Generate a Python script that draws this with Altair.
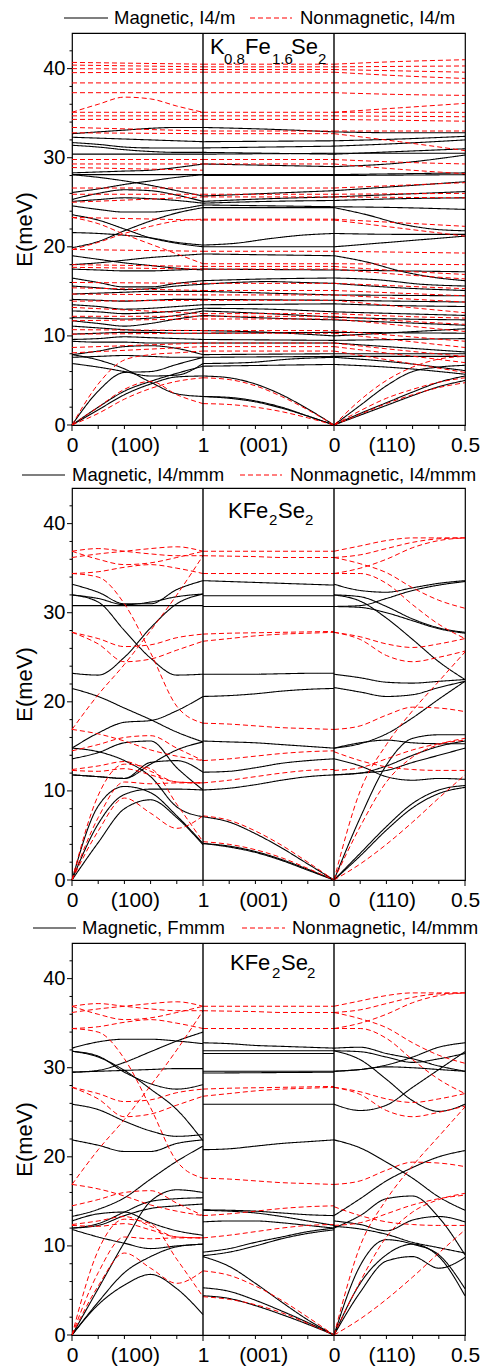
import json
import altair as alt
import pandas as pd

FONT = "Liberation Sans"
RED = "#ff0000"
DASH = [5, 3]

# ---------------- axis / layout lists ----------------
XLAB_POS = [0, 0.48, 1, 1.46, 2, 2.44, 3]
XLAB_TEXT = ["0", "(100)", "1", "(001)", "0", "(110)", "0.5"]
Y_LABELS = [0, 10, 20, 30, 40]
XTICKS_MINOR = [0.2, 0.4, 0.6, 0.8, 1.2, 1.4, 1.6, 1.8, 2.2, 2.4, 2.6, 2.8]
XTICKS_MAJOR = [0, 1, 2, 3]
YTICKS_MAJOR = [0, 10, 20, 30, 40]
YTICKS_MINOR = [2, 4, 6, 8, 12, 14, 16, 18, 22, 24, 26, 28, 32, 34, 36, 38, 42]
SEG_BOUNDS = [1, 2]

# ---------------- Panel 1: K0.8Fe1.6Se2 ----------------
P1_MAG_LABEL = "Magnetic, I4/m"
P1_NM_LABEL = "Nonmagnetic, I4/m"

P1_MAG_S1 = [
    [32.7, 32.9, 33.1, 33.3, 33.4, 33.4],
    [32.3, 32.2, 32.1, 32.0, 31.9, 31.8],
    [31.7, 31.5, 31.2, 31.1, 31.1, 31.1],
    [31.4, 31.2, 30.9, 30.7, 30.6, 30.6],
    [30.4, 30.4],
    [28.3, 28.4, 28.5, 28.6, 28.9, 29.3],
    [28.1, 28.1],
    [28.1, 27.8, 27.4, 26.9, 26.3, 25.7],
    [26.1, 26.5, 27.0, 27.4, 27.8, 28.1],
    [25.3, 26.0, 26.4, 26.3, 25.8, 25.1],
    [25.1, 25.3, 25.5, 25.4, 25.2, 24.9],
    [24.6, 24.2, 23.9, 23.9, 24.2, 24.7],
    [23.6, 23.0, 22.0, 21.0, 20.4, 20.0],
    [21.6, 21.5, 21.3, 21.0, 20.5, 20.2],
    [19.9, 20.6, 21.8, 22.9, 23.8, 24.4],
    [19.0, 18.6, 18.2, 17.9, 17.6, 17.4],
    [18.0, 18.2, 18.5, 18.8, 19.0, 19.2],
    [17.5, 17.4, 17.3, 17.3, 17.4, 17.5],
    [16.5, 16.0, 15.5, 15.5, 15.9, 16.2],
    [15.6, 15.4, 15.2, 15.3, 15.6, 15.8],
    [14.7, 14.8, 14.9, 15.0, 15.0, 15.0],
    [14.1, 14.0, 13.9, 14.0, 14.1, 14.1],
    [13.5, 13.3, 13.0, 13.1, 13.3, 13.5],
    [12.8, 12.7, 12.5, 12.6, 12.8, 13.1],
    [12.05, 12.0, 11.9, 12.0, 12.3, 12.8],
    [11.7, 11.4, 11.1, 11.4, 11.9, 12.3],
    [11.1, 10.9, 10.7, 10.6, 10.6, 10.6],
    [10.2, 10.3, 10.4, 10.4, 10.3, 10.3],
    [9.6, 9.7, 9.9, 9.8, 9.7, 9.6],
    [9.4, 9.3, 9.3, 9.2, 9.2, 9.2],
    [7.9, 8.3, 8.8, 8.9, 8.6, 7.9],
    [7.6, 7.7, 7.8, 7.7, 7.6, 7.6],
    [7.9, 7.3, 6.3, 4.8, 3.5, 3.2],
    [6.9, 6.5, 6.0, 5.5, 5.6, 6.9],
    [0, 3.8, 5.9, 6.0, 6.8, 7.6],
    [0, 2.0, 3.8, 4.9, 5.8, 6.6],
    [0, 1.7, 3.4, 4.6, 5.4, 5.5],
]
P1_MAG_S2 = [
    [33.4, 33.2, 32.9], [31.8, 31.9], [31.1, 31.3], [30.6, 30.4], [30.4, 30.5],
    [29.3, 29.0], [28.1, 28.1], [28.0, 28.0], [25.7, 26.0, 26.3], [25.1, 25.4, 25.6],
    [24.9, 25.1, 25.2], [24.7, 24.6, 24.5], [24.4, 24.4], [20.2, 20.4, 20.9, 21.3, 21.5],
    [20.0, 20.0], [19.2, 19.0], [17.5, 17.4], [16.2, 16.4, 16.5], [15.8, 16.0, 16.1, 16.0, 15.9],
    [15.0, 14.8, 14.6], [14.1, 14.0], [13.5, 13.6], [13.1, 13.0, 12.7], [12.8, 12.5, 12.1],
    [12.3, 12.0, 11.8], [10.6, 10.4, 10.0], [10.3, 10.4], [9.6, 9.5], [9.2, 9.2],
    [7.9, 8.0], [7.6, 7.7], [6.9, 7.0, 7.4, 7.6], [6.6, 6.7, 6.8],
    [5.5, 5.3, 4.6, 3.4, 1.8, 0],
    [3.2, 3.1, 2.7, 2.0, 1.0, 0],
    [3.2, 3.0, 2.6, 1.9, 1.0, 0],
]
P1_MAG_S3 = [
    [32.9, 32.8, 32.8], [31.9, 32.1, 32.4], [31.3, 31.6, 32.0], [30.4, 30.7, 31.0],
    [30.5, 30.5], [29.0, 29.4, 30.3], [28.1, 28.3], [28.0, 28.1], [26.3, 26.8, 27.3],
    [25.6, 25.9, 26.2], [25.2, 25.4, 25.5], [24.5, 24.4, 24.2],
    [24.4, 23.6, 22.6, 22.0, 21.8], [21.5, 21.4, 21.4], [20.0, 20.6, 21.2],
    [19.0, 18.3, 17.3, 16.6, 16.2], [17.4, 17.3, 17.2], [16.5, 16.3, 15.8, 15.6],
    [15.9, 15.4, 15.1], [14.6, 14.5], [14.0, 13.9, 13.8], [13.6, 13.4, 13.3],
    [12.7, 12.5, 12.3], [12.1, 11.9, 11.8], [11.8, 11.5, 11.2], [10.0, 10.4, 10.8],
    [10.4, 10.3], [9.5, 9.6, 9.7], [9.2, 8.7, 8.2], [8.0, 8.0], [7.7, 7.7],
    [7.6, 7.0, 6.1], [6.8, 6.4, 5.7],
    [0, 2.2, 4.4, 6.0, 6.5, 6.7],
    [0, 1.3, 2.5, 3.7, 4.8, 5.5],
    [0, 1.1, 2.2, 3.3, 4.3, 5.0],
]
P1_NM_S1 = [
    [40.7, 40.5], [40.4, 40.2], [40.0, 39.9], [39.55, 39.6], [38.4, 38.4], [37.3, 37.3],
    [35.1, 36.0, 36.8, 36.6, 35.8, 35.1],
    [35.1, 35.1], [34.7, 34.7], [34.3, 34.3], [33.4, 33.0], [32.8, 32.7],
    [29.8, 29.8], [29.3, 29.3], [28.9, 28.6], [26.6, 26.6], [25.9, 25.9], [25.0, 25.6],
    [23.3, 22.6, 21.4, 20.3, 19.2, 18.1],
    [19.7, 20.5, 21.5, 22.3, 22.9, 23.1],
    [23.3, 23.0], [19.7, 19.5], [18.0, 17.8], [17.7, 17.5], [16.0, 15.9], [15.4, 15.1],
    [14.7, 14.6], [13.9, 14.0], [13.2, 12.5], [12.2, 12.2], [11.7, 11.9], [10.7, 10.6],
    [10.2, 10.3], [8.7, 9.2], [8.1, 8.8],
    [0, 4.6, 7.3, 7.9, 8.1, 8.3],
    [0, 2.0, 4.0, 4.9, 3.4, 2.4],
    [0, 1.3, 2.9, 4.1, 4.9, 5.3],
]
P1_NM_S2 = [
    [40.5, 40.5], [40.2, 40.2], [39.9, 39.9], [39.6, 39.6], [38.4, 38.4], [37.3, 37.3],
    [35.1, 35.1], [34.7, 34.7], [34.3, 34.3], [33.0, 33.0], [32.7, 32.7], [29.8, 29.8],
    [29.3, 29.3], [26.6, 26.6], [25.9, 25.9], [25.6, 25.6], [23.1, 23.1], [23.0, 23.0],
    [19.5, 19.5], [18.1, 18.1], [17.8, 17.8], [17.5, 17.5], [15.9, 15.9], [15.1, 15.1],
    [14.6, 14.6], [14.0, 14.0], [12.5, 12.5], [12.2, 12.2], [11.9, 11.9], [10.6, 10.6],
    [10.3, 10.3], [9.2, 9.2], [8.8, 8.8], [8.3, 8.3],
    [5.3, 5.1, 4.4, 3.2, 1.7, 0],
    [2.4, 2.3, 2.0, 1.5, 0.8, 0],
]
P1_NM_S3 = [
    [40.5, 40.8, 41.0], [40.2, 40.3], [39.9, 39.6], [39.6, 39.2, 38.9], [38.4, 38.4],
    [37.3, 37.1, 37.0], [35.1, 35.6, 36.1], [35.1, 35.1], [34.7, 34.6], [34.3, 34.1],
    [33.0, 33.0], [32.7, 31.8, 30.8], [29.8, 29.5, 29.3], [29.3, 28.7, 28.2],
    [26.6, 26.9, 27.2], [25.9, 26.0], [25.6, 25.5], [23.1, 22.7, 22.3], [23.0, 22.1, 21.2],
    [19.5, 19.4, 19.3], [18.1, 18.0], [17.8, 17.3, 16.9], [17.5, 16.9, 16.4],
    [15.9, 15.6, 15.3], [15.1, 14.8, 14.5], [14.6, 14.2, 13.8], [14.0, 13.3, 12.6],
    [12.5, 12.2, 12.0], [12.2, 11.7, 11.3], [11.9, 11.2, 10.5], [10.6, 10.0, 9.4],
    [10.3, 9.5, 8.7], [9.2, 8.4, 7.7], [8.8, 7.9, 7.0], [8.3, 7.1, 5.9],
    [0, 2.8, 5.0, 6.5, 7.4, 7.7],
    [0, 1.6, 3.0, 4.0, 4.8, 5.3],
    [0, 1.2, 2.4, 3.4, 4.2, 4.75],
]

# ---------------- Panel 2: KFe2Se2, magnetic I4/mmm ----------------
P2_MAG_LABEL = "Magnetic, I4/mmm"
P2_NM_LABEL = "Nonmagnetic, I4/mmm"

P2_MAG_S1 = [
    [33.2, 32.3, 31.0, 31.0, 32.6, 33.6],
    [32.0, 31.6, 30.9, 31.2, 31.8, 32.1],
    [30.8, 30.8],
    [32.0, 31.2, 28.0, 24.9, 23.0, 23.1],
    [23.2, 23.0, 25.0, 28.3, 31.0, 32.1],
    [21.5, 20.6, 19.3, 18.0, 16.6, 15.5],
    [14.8, 16.5, 17.7, 17.9, 19.0, 20.6],
    [14.8, 14.4, 13.4, 11.6, 8.2, 7.1],
    [13.6, 14.3, 15.4, 15.6, 12.6, 10.1],
    [11.8, 11.6, 11.4, 13.0, 14.6, 15.5],
    [11.8, 11.6, 11.4, 13.2, 13.4, 12.1],
    [0, 8.3, 10.5, 9.8, 7.2, 4.1],
    [0, 6.3, 9.6, 10.2, 10.2, 10.1],
    [0, 4.2, 8.0, 9.0, 7.0, 3.95],
]
P2_MAG_S2 = [
    [33.6, 33.5, 33.4, 33.3, 33.2, 33.1],
    [31.9, 31.9],
    [30.7, 30.7],
    [23.1, 23.1, 23.1, 23.15, 23.2, 23.2],
    [20.6, 20.7, 20.9, 21.2, 21.4, 21.5],
    [15.6, 15.5, 15.4, 15.2, 15.0, 14.8],
    [12.1, 12.2, 12.6, 13.1, 13.4, 13.6],
    [10.1, 10.3, 10.7, 11.2, 11.6, 11.8],
    [7.1, 6.5, 5.2, 3.6, 1.8, 0],
    [4.1, 3.8, 3.2, 2.3, 1.2, 0],
    [4.1, 3.7, 3.1, 2.2, 1.1, 0],
]
P2_MAG_S3 = [
    [33.2, 32.5, 32.3, 32.8, 33.3, 33.6],
    [32.0, 31.8, 30.7, 29.3, 28.3, 27.8],
    [30.7, 30.8, 31.6, 32.5, 33.1, 33.5],
    [30.7, 30.6, 30.0, 29.1, 28.2, 27.7],
    [32.0, 31.3, 29.4, 27.0, 24.5, 22.5],
    [23.1, 22.7, 22.2, 22.1, 22.3, 22.5],
    [21.6, 21.1, 20.6, 20.8, 21.6, 22.3],
    [14.8, 15.3, 16.4, 18.2, 20.3, 22.3],
    [14.8, 15.4, 15.7, 15.4, 15.3, 15.3],
    [13.6, 12.8, 11.6, 11.2, 11.4, 11.3],
    [11.8, 12.0, 12.8, 14.0, 15.0, 15.6],
    [11.8, 12.0, 12.3, 13.2, 14.0, 14.8],
    [0, 7.0, 12.9, 15.9, 16.3, 16.3],
    [0, 3.0, 6.0, 8.6, 10.1, 10.6],
    [0, 2.7, 5.6, 8.1, 9.7, 10.4],
]

# ---------------- Nonmagnetic I4/mmm (panels 2 and 3) ----------------
NM_S1 = [
    [36.9, 37.2, 36.9, 36.6, 36.4, 36.4],
    [36.2, 36.6, 36.9, 37.2, 37.4, 36.9],
    [36.9, 36.0, 35.4, 35.6, 36.2, 36.9],
    [34.4, 34.6, 35.1, 35.4, 35.0, 34.4],
    [34.4, 34.0, 31.0, 25.5, 19.5, 17.6],
    [16.9, 20.8, 24.2, 28.0, 32.0, 36.4],
    [27.8, 27.1, 26.2, 26.4, 27.2, 27.6],
    [27.8, 26.5, 24.5, 24.8, 25.8, 26.8],
    [14.5, 15.2, 16.0, 16.2, 14.8, 13.4],
    [16.9, 16.4, 15.6, 14.6, 13.9, 13.4],
    [12.3, 12.2, 12.5, 11.8, 11.0, 10.9],
    [12.4, 12.8, 13.3, 12.2, 11.0, 10.9],
    [0, 9.5, 13.0, 12.5, 8.5, 4.3],
    [0, 7.0, 11.0, 10.8, 10.9, 10.9],
    [0, 5.5, 9.2, 7.5, 5.8, 7.2],
]
NM_S2 = [
    [36.9, 36.9],
    [36.4, 36.35, 36.3, 36.2, 36.2, 36.2],
    [34.4, 34.4],
    [27.6, 27.7, 27.75, 27.8, 27.85, 27.9],
    [26.8, 27.1, 27.4, 27.6, 27.7, 27.8],
    [17.6, 17.5, 17.3, 17.1, 17.0, 16.9],
    [13.4, 13.6, 13.9, 14.2, 14.4, 14.5],
    [10.9, 11.2, 11.6, 12.0, 12.3, 12.4],
    [7.2, 6.7, 5.5, 3.9, 2.0, 0],
    [4.3, 4.0, 3.4, 2.5, 1.3, 0],
]
NM_S3 = [
    [36.9, 37.5, 38.1, 38.4, 38.4, 38.4],
    [34.4, 35.0, 36.0, 37.3, 38.1, 38.4],
    [36.2, 36.5, 37.2, 37.9, 38.3, 38.4],
    [36.2, 35.5, 34.5, 32.8, 31.4, 30.5],
    [34.4, 34.4, 33.3, 30.9, 28.7, 27.1],
    [27.8, 27.3, 26.5, 26.1, 26.5, 27.1],
    [27.8, 27.0, 25.2, 24.5, 25.0, 25.7],
    [16.9, 17.3, 18.5, 19.4, 19.3, 18.9],
    [14.4, 13.4, 12.7, 12.4, 12.3, 12.3],
    [12.3, 12.6, 13.6, 14.6, 15.3, 15.7],
    [0, 10.0, 15.2, 19.0, 22.3, 25.6],
    [0, 6.0, 11.0, 13.8, 15.2, 15.9],
    [0, 1.8, 4.0, 6.5, 9.2, 11.8],
]

# ---------------- Panel 3: KFe2Se2, magnetic Fmmm ----------------
P3_MAG_LABEL = "Magnetic, Fmmm"
P3_NM_LABEL = "Nonmagnetic, I4/mmm"

P3_MAG_S1 = [
    [32.2, 32.9, 33.2, 33.2, 33.0, 32.7],
    [29.5, 29.7, 30.6, 31.8, 33.0, 34.0],
    [29.5, 29.6, 29.7, 29.8, 29.9, 29.9],
    [31.85, 31.3, 29.5, 28.2, 27.6, 28.1],
    [31.85, 31.2, 29.7, 27.6, 25.3, 21.8],
    [25.9, 25.3, 24.0, 22.9, 22.3, 22.5],
    [21.9, 21.3, 20.6, 20.6, 21.5, 21.9],
    [13.3, 14.1, 15.4, 17.5, 19.5, 21.2],
    [12.8, 13.6, 13.8, 12.6, 11.7, 11.2],
    [12.0, 12.3, 13.4, 14.2, 14.5, 14.7],
    [11.85, 11.0, 10.3, 9.7, 10.0, 10.2],
    [12.0, 12.5, 13.8, 15.0, 15.3, 15.4],
    [0, 5.2, 10.4, 15.0, 16.3, 16.0],
    [0, 3.7, 7.0, 8.8, 9.9, 10.2],
    [0, 3.4, 5.6, 6.8, 5.2, 2.3],
]
P3_MAG_S2 = [
    [32.8, 32.7, 32.5, 32.4, 32.3, 32.2],
    [31.9, 31.9],
    [31.6, 31.6],
    [29.6, 29.6],
    [29.4, 29.5],
    [25.9, 25.9],
    [20.8, 20.9, 21.2, 21.5, 21.7, 21.9],
    [14.05, 14.0, 13.9, 13.7, 13.5, 13.4],
    [14.0, 13.9, 13.7, 13.3, 12.8, 12.3],
    [12.7, 12.8, 12.8, 12.6, 12.3, 12.0],
    [9.3, 9.7, 10.4, 11.0, 11.6, 12.0],
    [8.9, 9.3, 10.0, 10.8, 11.4, 11.8],
    [8.8, 7.7, 5.8, 3.7, 1.7, 0],
    [5.3, 4.9, 3.9, 2.7, 1.4, 0],
    [4.4, 4.1, 3.3, 2.3, 1.2, 0],
]
P3_MAG_S3 = [
    [32.2, 32.3, 31.6, 31.0, 30.2, 29.6],
    [31.9, 30.9, 28.7, 26.3, 25.1, 25.9],
    [29.6, 29.8, 30.3, 31.2, 32.3, 32.8],
    [29.6, 29.8, 30.1, 30.0, 29.8, 29.6],
    [25.9, 25.2, 25.8, 27.8, 29.8, 31.8],
    [31.9, 31.8, 31.2, 30.6, 31.0, 31.6],
    [21.9, 21.0, 19.4, 17.6, 15.5, 14.0],
    [13.4, 15.3, 17.3, 18.8, 20.0, 20.7],
    [12.8, 12.4, 11.7, 12.9, 13.3, 12.7],
    [12.2, 11.9, 11.3, 10.4, 9.8, 9.2],
    [12.0, 13.4, 15.3, 15.6, 13.2, 9.0],
    [0, 7.8, 10.7, 10.2, 9.0, 5.2],
    [0, 5.8, 9.0, 10.2, 8.8, 4.4],
    [0, 4.8, 8.3, 8.8, 7.5, 8.7],
]

# ---------------- helpers ----------------
W, H = 393, 392


def rows(segments, label):
    out = []
    for s, branches in enumerate(segments):
        for b, vals in enumerate(branches):
            n = len(vals)
            for i, v in enumerate(vals):
                out.append({"x": s + i / (n - 1), "E": v,
                            "branch": f"{s}-{b}", "series": label})
    return pd.DataFrame(out)


LABEL_EXPR = (json.dumps(XLAB_TEXT) + "[indexof(" + json.dumps(XLAB_POS) +
              ", datum.value)]")

XS = alt.Scale(domain=[0, 3], nice=False, zero=False)
YS = alt.Scale(domain=[0, 44], nice=False, zero=False)

X_AXIS = alt.Axis(values=XLAB_POS, labelExpr=LABEL_EXPR, ticks=False, domain=False,
                  grid=False, title=None, labelFontSize=21, labelFont=FONT,
                  labelPadding=9.5, labelFlush=False, labelOverlap=False,
                  labelColor="black")
Y_AXIS = alt.Axis(values=Y_LABELS, ticks=False, domain=False, grid=False,
                  title="E(meV)", titleFontSize=22, titleFont=FONT,
                  titleFontWeight="normal", titleColor="black", titlePadding=6,
                  labelFontSize=20, labelFont=FONT, labelPadding=7,
                  labelColor="black")

ONE = pd.DataFrame({"k": [0]})
LEG_FS = 18.5


def text_layer(text, px, py, size, baseline="alphabetic"):
    return alt.Chart(ONE).mark_text(text=text, font=FONT, fontSize=size,
                                    align="left", baseline=baseline,
                                    color="black").encode(
        x=alt.value(px), y=alt.value(py))


def legend_layers(mag_label, nm_label, ly, s1, t1, s2, t2):
    solid = alt.Chart(ONE).mark_rule(color="black", strokeWidth=1.1).encode(
        x=alt.value(s1[0]), x2=alt.value(s1[1]), y=alt.value(ly))
    dashed = alt.Chart(ONE).mark_rule(color=RED, strokeWidth=1.1,
                                      strokeDash=DASH).encode(
        x=alt.value(s2[0]), x2=alt.value(s2[1]), y=alt.value(ly))
    return [solid, text_layer(mag_label, t1, ly, LEG_FS, "middle"),
            dashed, text_layer(nm_label, t2, ly, LEG_FS, "middle")]


def x_ticks(values, length):
    return alt.Chart(pd.DataFrame({"t": values})).mark_rule(
        color="black", strokeWidth=1).encode(
        x=alt.X("t:Q", scale=XS, axis=X_AXIS), y=alt.value(H),
        y2=alt.value(H + length))


def y_ticks(values, length):
    return alt.Chart(pd.DataFrame({"v": values})).mark_rule(
        color="black", strokeWidth=1).encode(
        y=alt.Y("v:Q", scale=YS, axis=Y_AXIS), x=alt.value(-length),
        x2=alt.value(0))


def panel(mag_segs, nm_segs, mag_label, nm_label, leg, pieces):
    dm = rows(mag_segs, mag_label)
    dn = rows(nm_segs, nm_label)
    dom = [mag_label, nm_label]
    color = alt.Color("series:N", scale=alt.Scale(domain=dom, range=["black", RED]),
                      legend=None)
    dash = alt.StrokeDash("series:N",
                          scale=alt.Scale(domain=dom, range=[[1, 0], DASH]),
                          legend=None)
    mag = alt.Chart(dm).mark_line(strokeWidth=1.1, interpolate="monotone").encode(
        x=alt.X("x:Q", scale=XS, axis=X_AXIS),
        y=alt.Y("E:Q", scale=YS, axis=Y_AXIS),
        color=color, strokeDash=dash, detail="branch:N")
    nm = alt.Chart(dn).mark_line(strokeWidth=1.0, interpolate="monotone").encode(
        x=alt.X("x:Q", scale=XS, axis=X_AXIS),
        y=alt.Y("E:Q", scale=YS, axis=Y_AXIS),
        color=color, strokeDash=dash, detail="branch:N")
    bounds = alt.Chart(pd.DataFrame({"b": SEG_BOUNDS})).mark_rule(
        color="black", strokeWidth=1.4).encode(x=alt.X("b:Q", scale=XS, axis=X_AXIS))
    ticks = [x_ticks(XTICKS_MINOR, 4), x_ticks(XTICKS_MAJOR, 6),
             y_ticks(YTICKS_MAJOR, 5), y_ticks(YTICKS_MINOR, 2.5)]
    formula = [text_layer(t, px, py, sz) for t, px, py, sz in pieces]
    legend = legend_layers(mag_label, nm_label, *leg)
    return alt.layer(mag, nm, bounds, *ticks, *formula, *legend).properties(
        width=W, height=H)


BIG, SUB = 22, 15
p1 = panel([P1_MAG_S1, P1_MAG_S2, P1_MAG_S3], [P1_NM_S1, P1_NM_S2, P1_NM_S3],
           P1_MAG_LABEL, P1_NM_LABEL,
           (-15, (-8, 36), 42, (178, 220), 228),
           [("K", 138, 21, BIG), ("0.8", 152, 31, SUB), ("Fe", 173, 21, BIG),
            ("1.6", 200, 31, SUB), ("Se", 219, 21, BIG), ("2", 246, 31, SUB)])
p2 = panel([P2_MAG_S1, P2_MAG_S2, P2_MAG_S3], [NM_S1, NM_S2, NM_S3],
           P2_MAG_LABEL, P2_NM_LABEL,
           (-13, (-50, -7), 0, (168, 210), 218),
           [("KFe", 156, 30, BIG), ("2", 197, 37, SUB), ("Se", 206, 30, BIG),
            ("2", 233, 37, SUB)])
p3 = panel([P3_MAG_S1, P3_MAG_S2, P3_MAG_S3], [NM_S1, NM_S2, NM_S3],
           P3_MAG_LABEL, P3_NM_LABEL,
           (-15, (-39, 4), 10, (170, 213), 220),
           [("KFe", 158, 27, BIG), ("2", 200, 35, SUB), ("Se", 209, 27, BIG),
            ("2", 235, 35, SUB)])

chart = alt.vconcat(p1, p2, p3, spacing=63, bounds="flush").resolve_scale(
    color="independent", strokeDash="independent"
).configure(
    padding={"left": 5, "top": 0, "right": 0, "bottom": 0}
).configure_view(stroke="black", strokeWidth=1.2)

chart.save("out.html", embed_options={"renderer": "svg", "actions": False})
